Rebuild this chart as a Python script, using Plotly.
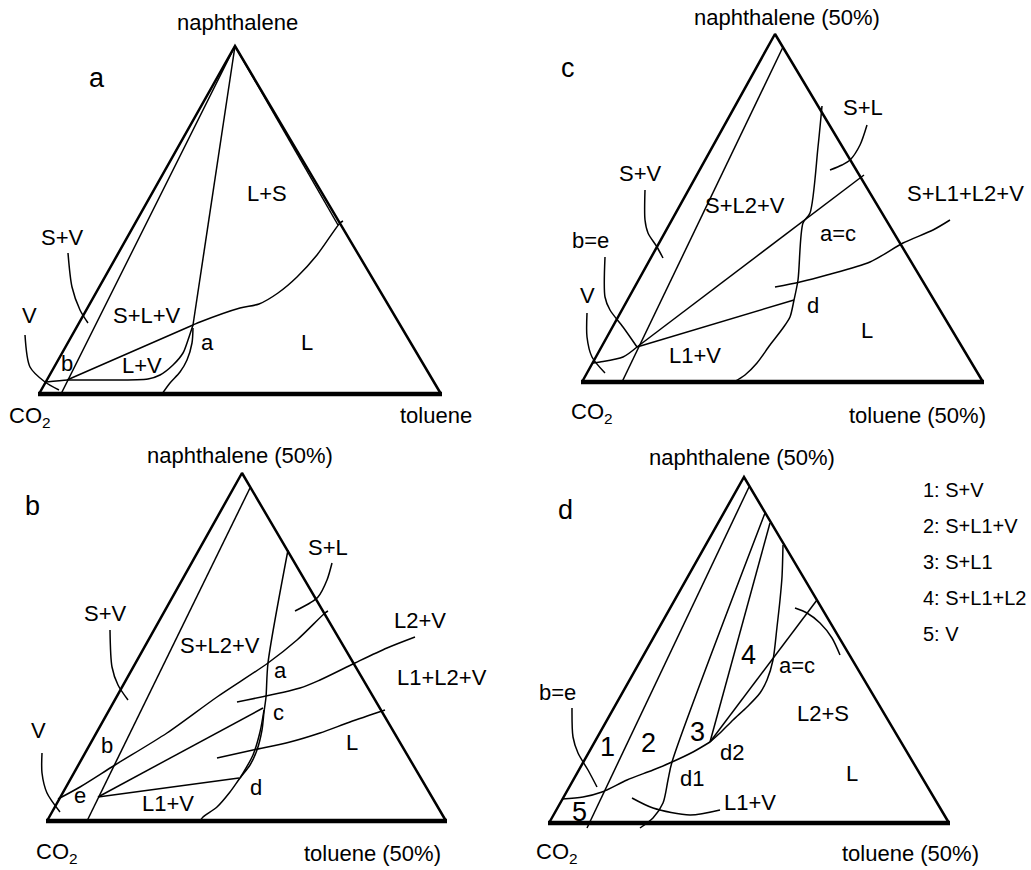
import plotly.graph_objects as go

# ---------------- data (figure units: x to the right, y downward) ----------------
# Panel a
A_TRI = [(39, 394), (235, 46), (441, 394)]
A_INNER = [(61, 394), (235, 46)]
A_RIGHT_INNER = [(235, 46), (338, 225)]
A_APEX_LINE = [(235, 46), (193, 325)]
A_UPPER = [(67, 380), (193, 325), (200, 322), (240, 308), (259, 304), (278, 293), (297, 277), (317, 255), (340, 223), (343, 221)]
A_LOWER = [(46, 382), (68, 380), (100, 380), (148, 379), (160, 375), (173, 365), (183, 353), (188, 340), (193, 325)]
A_TO_BASE = [(193, 328), (192, 343), (187, 360), (180, 372), (170, 383), (162, 394)]
A_PTR_V = [(25, 335), (30, 367), (45, 382), (59, 390)]
A_PTR_SV = [(68, 253), (72, 287), (80, 310), (88, 323)]

# Panel b
B_TRI = [(47, 821), (242, 473), (446, 821)]
B_INNER = [(87, 821), (250, 488)]
B_SL = [(288, 550), (268, 663), (266, 697), (264, 712), (262, 730), (257, 750), (250, 765), (240, 778), (230, 792), (217, 807), (203, 817), (200, 821)]
B_LENS = [(264, 710), (260, 732), (253, 755), (240, 778)]
B_UPPER = [(58, 799), (80, 787), (115, 765), (167, 733), (217, 697), (268, 663), (297, 640), (325, 613), (328, 611)]
B_EC = [(98, 797), (263, 708)]
B_ED = [(98, 797), (239, 778)]
B_PTR_L2V = [(237, 702), (300, 688), (320, 680), (355, 663), (387, 648), (415, 637)]
B_PTR_L1L2V = [(217, 758), (253, 750), (290, 742), (320, 733), (350, 722), (385, 710)]
B_PTR_SL = [(332, 563), (327, 580), (318, 597), (310, 603), (295, 611)]
B_PTR_SV = [(110, 630), (112, 667), (118, 685), (128, 700)]
B_PTR_V = [(42, 753), (42, 773), (47, 793), (60, 812)]

# Panel c
C_TRI = [(582, 382), (775, 34), (983, 382)]
C_INNER = [(622, 382), (783, 47)]
C_SL = [(822, 106), (818, 147), (810, 213), (803, 223), (798, 280), (794, 300), (790, 317), (783, 328), (770, 345), (757, 363), (745, 375), (734, 382)]
C_UPPER = [(637, 347), (861, 177), (864, 175)]
C_LOWER = [(637, 347), (794, 300)]
C_VB = [(593, 363), (600, 362), (623, 357), (637, 347)]
C_PTR_SL1L2V = [(775, 287), (800, 282), (827, 275), (870, 262), (903, 243), (933, 230), (950, 220)]
C_PTR_SL = [(867, 125), (860, 145), (850, 160), (842, 165), (830, 170)]
C_PTR_SV = [(645, 190), (645, 220), (648, 233), (657, 247), (663, 258)]
C_PTR_BE = [(605, 257), (605, 297), (610, 310), (623, 327), (637, 347)]
C_PTR_V = [(587, 313), (587, 337), (592, 357), (605, 373)]

# Panel d
D_TRI = [(549, 823), (744, 477), (949, 823)]
D_L12 = [(749, 487), (587, 828)]
D_L23 = [(765, 513), (672, 762), (668, 780), (663, 803), (653, 818), (640, 828)]
D_L34 = [(770, 523), (710, 742)]
D_CURVE4 = [(783, 545), (782, 577), (780, 600), (777, 627), (773, 660), (767, 680), (760, 693), (747, 707), (733, 720), (720, 733), (710, 742)]
D_AC = [(710, 742), (817, 600)]
D_LOWER = [(562, 799), (583, 797), (602, 792), (627, 780), (653, 770), (672, 762), (693, 752), (710, 742)]
D_PTR_BE = [(572, 708), (573, 737), (578, 753), (588, 770), (597, 787)]
D_PTR_L1V = [(632, 798), (653, 808), (690, 815), (720, 810)]
D_PTR_L2S = [(795, 608), (807, 613), (820, 623), (832, 638), (840, 655)]

# Text labels
LABELS = ["naphthalene", "L+S", "S+V", "V", "S+L+V", "a", "L+V", "b", "L", "CO<sub>2</sub>", "toluene",
          "naphthalene (50%)", "S+V", "S+L2+V", "S+L", "L2+V", "L1+L2+V", "a", "c", "b", "e", "d", "L1+V", "L", "V", "CO<sub>2</sub>", "toluene (50%)",
          "naphthalene (50%)", "S+L", "S+L1+L2+V", "a=c", "S+V", "S+L2+V", "b=e", "V", "L1+V", "d", "L", "CO<sub>2</sub>", "toluene (50%)",
          "naphthalene (50%)", "b=e", "d2", "d1", "a=c", "L2+S", "L1+V", "L", "CO<sub>2</sub>", "toluene (50%)"]
LABEL_X = [237, 267, 62, 29, 147, 207, 142, 67, 307, 30, 436,
           240, 105, 220, 328, 420, 442, 280, 278, 107, 80, 256, 168, 352, 38, 57, 372,
           787, 863, 965, 838, 640, 745, 590, 587, 695, 813, 867, 592, 917,
           742, 557, 732, 692, 797, 823, 750, 852, 557, 910]
LABEL_Y = [22, 193, 237, 315, 315, 342, 365, 363, 342, 417, 415,
           455, 613, 645, 547, 620, 677, 670, 712, 745, 795, 787, 803, 742, 730, 853, 853,
           17, 107, 193, 233, 173, 205, 240, 295, 355, 305, 330, 413, 415,
           457, 692, 752, 778, 665, 713, 802, 773, 853, 853]

PANEL_LETTERS = ["a", "b", "c", "d"]
PANEL_X = [97, 32, 568, 565]
PANEL_Y = [78, 506, 68, 510]

REGION_NUMS = ["1", "2", "3", "4", "5"]
REGION_X = [607, 648, 697, 748, 579]
REGION_Y = [747, 743, 732, 655, 812]

KEY_TEXT = ["1: S+V", "2: S+L1+V", "3: S+L1", "4: S+L1+L2", "5: V"]
KEY_X = 921
KEY_Y = [490, 526, 562, 598, 634]

# ---------------- figure ----------------
FONT = "Liberation Sans, Arial, sans-serif"
fig = go.Figure()


def add_line(pts, width=1.5, smooth=False):
    xs = [p[0] for p in pts]
    ys = [p[1] for p in pts]
    fig.add_trace(go.Scatter(x=xs, y=ys, mode="lines",
                             line=dict(color="black", width=width,
                                       shape="spline" if smooth else "linear",
                                       smoothing=0.8 if smooth else None),
                             hoverinfo="skip", showlegend=False))


def add_triangle(tri):
    (x0, y0), (x1, y1), (x2, y2) = tri
    add_line([(x0, y0), (x1, y1), (x2, y2)], width=2.5)
    add_line([(x0 - 1, y0), (x2 + 1, y2)], width=4.5)


for tri in (A_TRI, B_TRI, C_TRI, D_TRI):
    add_triangle(tri)

straight = [A_INNER, A_RIGHT_INNER, A_APEX_LINE, B_INNER, B_EC, B_ED, C_INNER, C_UPPER, C_LOWER,
            D_L12, D_L34, D_AC]
curved = [A_UPPER, A_LOWER, A_TO_BASE, A_PTR_V, A_PTR_SV,
          B_SL, B_LENS, B_UPPER, B_PTR_L2V, B_PTR_L1L2V, B_PTR_SL, B_PTR_SV, B_PTR_V,
          C_SL, C_VB, C_PTR_SL1L2V, C_PTR_SL, C_PTR_SV, C_PTR_BE, C_PTR_V,
          D_L23, D_CURVE4, D_LOWER, D_PTR_BE, D_PTR_L1V, D_PTR_L2S]
for s in straight:
    add_line(s, width=1.5)
for c in curved:
    add_line(c, width=1.5, smooth=True)

annotations = []
for t, x, y in zip(LABELS, LABEL_X, LABEL_Y):
    annotations.append(dict(text=t, x=x, y=y, xref="x", yref="y", showarrow=False,
                            xanchor="center", yanchor="middle",
                            font=dict(family=FONT, size=22, color="black")))
for t, x, y in zip(PANEL_LETTERS, PANEL_X, PANEL_Y):
    annotations.append(dict(text=t, x=x, y=y, xref="x", yref="y", showarrow=False,
                            xanchor="center", yanchor="middle",
                            font=dict(family=FONT, size=27, color="black")))
for t, x, y in zip(REGION_NUMS, REGION_X, REGION_Y):
    annotations.append(dict(text=t, x=x, y=y, xref="x", yref="y", showarrow=False,
                            xanchor="center", yanchor="middle",
                            font=dict(family=FONT, size=27, color="black")))
for t, y in zip(KEY_TEXT, KEY_Y):
    annotations.append(dict(text=t, x=KEY_X, y=y, xref="x", yref="y", showarrow=False,
                            xanchor="left", yanchor="middle",
                            font=dict(family=FONT, size=20, color="black")))

fig.update_layout(
    width=1031, height=870,
    margin=dict(l=0, r=0, t=0, b=0),
    paper_bgcolor="white", plot_bgcolor="white",
    xaxis=dict(range=[0, 1031], visible=False, fixedrange=True),
    yaxis=dict(range=[870, 0], visible=False, fixedrange=True),
    annotations=annotations,
    showlegend=False,
)

fig.write_html("out.html",
               config={"displayModeBar": False, "staticPlot": True},
               post_script="document.body.style.margin='0';document.body.style.overflow='hidden';")
